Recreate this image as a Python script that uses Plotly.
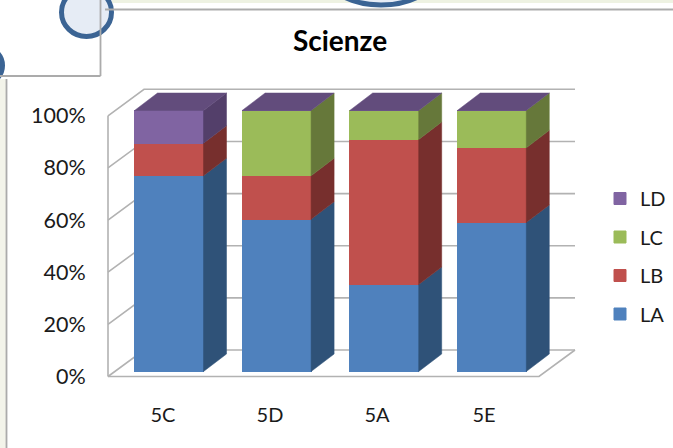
import plotly.graph_objects as go

categories = ["5C", "5D", "5A", "5E"]
series_names = ["LA", "LB", "LC", "LD"]
LA = [75.0, 58.3, 33.3, 57.1]
LB = [12.5, 16.7, 55.6, 28.6]
LC = [0.0, 25.0, 11.1, 14.3]
LD = [12.5, 0.0, 0.0, 0.0]
ticks = [0, 20, 40, 60, 80, 100]

W, H = 673, 448
series = [LA, LB, LC, LD]
front = ["#4F81BD", "#C0504D", "#9BBB59", "#8064A2"]
side = ["#2F5278", "#772F2D", "#66783A", "#533F6A"]
top_col = "#624C7C"
GRID = "#B2B2B2"

# pixel scales: wall axes (x, y) and bar axes (x2, y2)
x_unit, x_zero = 107.0, 163.0
y_unit, y_zero = 2.607, 376.5
bx_unit, bx_zero = 107.6, 169.0
by_unit, by_zero = 2.61, 371.5
wall_dx, wall_dy = 36 / x_unit, 26.5 / y_unit
bar_dx, bar_dy = 23 / bx_unit, 17.5 / by_unit
bar_w = 69 / bx_unit
wall_l, wall_r = (108 - x_zero) / x_unit, (539 - x_zero) / x_unit

fig = go.Figure()

# walls and gridlines (first subplot, lies behind the bars)
def wall(xs, ys):
    fig.add_trace(go.Scatter(x=xs, y=ys, mode="lines", showlegend=False, hoverinfo="skip",
                             line=dict(color=GRID, width=1.6), xaxis="x", yaxis="y"))

for t in ticks:
    wall([wall_l, wall_l + wall_dx, wall_r + wall_dx], [t, t + wall_dy, t + wall_dy])
wall([wall_l, wall_l], [0, 100])
wall([wall_l, wall_r, wall_r + wall_dx], [0, 0, wall_dy])

# front faces
for rank, (name, vals, col) in enumerate(zip(series_names, series, front)):
    fig.add_trace(go.Bar(x=list(range(len(categories))), y=vals, name=name, width=bar_w,
                         marker=dict(color=col, line=dict(width=1, color=col)),
                         legendgroup=name, legendrank=100 - rank,
                         xaxis="x2", yaxis="y2"))

# side and top faces, worked out from the same values
for i in range(len(categories)):
    base = 0.0
    xr = i + bar_w / 2
    xl = i - bar_w / 2
    for vals, col in zip(series, side):
        v = vals[i]
        if v > 0:
            fig.add_trace(go.Scatter(
                x=[xr, xr + bar_dx, xr + bar_dx, xr, xr],
                y=[base, base + bar_dy, base + v + bar_dy, base + v, base],
                mode="lines", fill="toself", fillcolor=col, line=dict(width=0.5, color=col),
                showlegend=False, hoverinfo="skip", xaxis="x2", yaxis="y2"))
        base += v
    fig.add_trace(go.Scatter(
        x=[xl, xl + bar_dx, xr + bar_dx, xr, xl],
        y=[base, base + bar_dy, base + bar_dy, base, base],
        mode="lines", fill="toself", fillcolor=top_col, line=dict(width=0.5, color=top_col),
        showlegend=False, hoverinfo="skip", xaxis="x2", yaxis="y2"))

def rng_x(u, z):
    return [(0 - z) / u, (W - z) / u]

def rng_y(u, z):
    return [(z - H) / u, z / u]

def px(x0, y0, x1, y1, **kw):
    return dict(xref="paper", yref="paper", x0=x0 / W, x1=x1 / W, y0=1 - y0 / H, y1=1 - y1 / H, **kw)

RING = "#3B6494"
LINE = dict(color="#ABABAB", width=1.8)
ring = dict(color=RING, width=5)
shapes = [
    px(112, -2, 673, 3, type="rect", fillcolor="#EEF2E2", line=dict(width=0), layer="below"),
    px(0, 79, 6, 448, type="rect", fillcolor="#F3F4EA", line=dict(width=0), layer="below"),
    px(325, -60, 437, 5, type="circle", fillcolor="#E6ECF5", line=ring, layer="below"),
    px(61.5, -12, 111.5, 36.5, type="circle", fillcolor="#E6ECF5", line=ring, layer="below"),
    px(-34, 47.3, 2.5, 83.7, type="circle", fillcolor="#E6ECF5", line=ring, layer="below"),
    px(105, 9.5, 673, 9.5, type="line", line=LINE, layer="below"),
    px(100.5, 0, 100.5, 76, type="line", line=LINE, layer="below"),
    px(0, 76, 100.5, 76, type="line", line=LINE, layer="below"),
    px(6.5, 79, 6.5, 448, type="line", line=LINE, layer="below"),
]

font = dict(family="Lato, Carlito, sans-serif", size=20, color="#1A1A1A")
y_font = dict(family="Lato, Carlito, sans-serif", size=21.5, color="#1A1A1A")
hidden = dict(showgrid=False, zeroline=False, showline=False, showticklabels=False, ticks="")

fig.update_layout(
    width=W, height=H, margin=dict(l=0, r=0, t=0, b=0),
    paper_bgcolor="white", plot_bgcolor="rgba(0,0,0,0)", barmode="stack", font=font,
    shapes=shapes,
    title=dict(text="<b>Scienze</b>", x=340 / W, xanchor="center", y=1 - 41 / H, yanchor="middle",
               font=dict(family="Lato, Carlito, sans-serif", size=28, color="#000000")),
    xaxis=dict(domain=[0, 1], range=rng_x(x_unit, x_zero), tickmode="array",
               tickvals=list(range(len(categories))), ticktext=categories,
               showgrid=False, zeroline=False, showline=False, ticks="outside", ticklen=20,
               tickcolor="rgba(0,0,0,0)", anchor="free", position=1 - 376.5 / H, tickfont=font),
    yaxis=dict(domain=[0, 1], range=rng_y(y_unit, y_zero), tickmode="array", tickvals=ticks,
               ticktext=[f"{t}%" for t in ticks], showgrid=False, zeroline=False, showline=False,
               ticks="outside", ticklen=18, tickcolor="rgba(0,0,0,0)", anchor="free",
               position=108 / W, tickfont=y_font),
    xaxis2=dict(domain=[0, 1], range=rng_x(bx_unit, bx_zero), anchor="y2", **hidden),
    yaxis2=dict(domain=[0, 1], range=rng_y(by_unit, by_zero), anchor="x2", **hidden),
    legend=dict(x=600 / W, xanchor="left", y=1 - 179 / H, yanchor="top",
                tracegroupgap=9.5, font=font, bgcolor="rgba(0,0,0,0)", itemclick=False),
)

fig.write_html("out.html", config={"displayModeBar": False},
               post_script="document.body.style.margin='0';")
